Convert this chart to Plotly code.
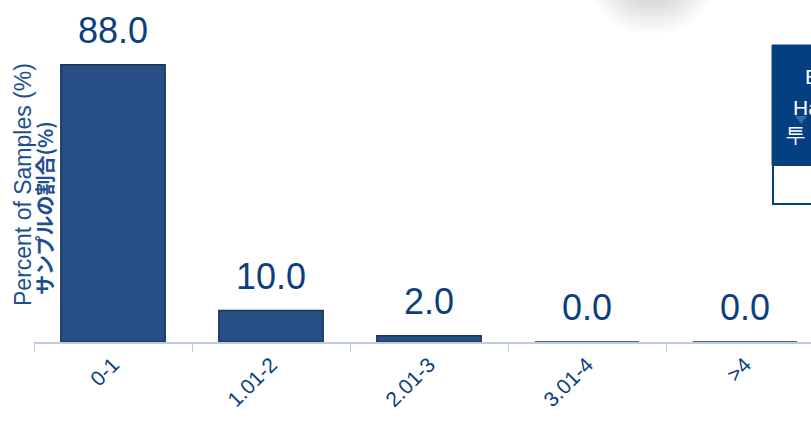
import plotly.graph_objects as go

categories = ['0-1', '1.01-2', '2.01-3', '3.01-4', '>4']
percent = [88.0, 10.0, 2.0, 0.0, 0.0]

BLUE = '#0c3f7d'
BAR = '#284f85'

W, H = 811, 423
# plot area in pixels: x 34..811, y 0..342
L, B = 34, 423 - 342
pw, ph = W - L, H - B


def px_x(x):
    return (x - L) / pw


def px_y(y):
    return (342 - y) / ph


fig = go.Figure()
fig.add_trace(go.Bar(x=categories, y=percent, width=0.66,
                     marker=dict(color=BAR, line=dict(color='#173459', width=1.5)),
                     hoverinfo='skip'))

for c, v in zip(categories, percent):
    fig.add_annotation(x=c, y=v, text=f'{v:.1f}', showarrow=False,
                       yanchor='bottom', yshift=12,
                       font=dict(size=36, color=BLUE, family='Liberation Sans'))

# y axis title (two lines, english + japanese)
fig.add_annotation(xref='paper', yref='paper', x=px_x(23), y=px_y(185),
                   xanchor='center', yanchor='middle',
                   text='Percent of Samples (%)', textangle=-90, showarrow=False,
                   font=dict(size=23, color='#1d4f8f', family='Liberation Sans'))
fig.add_annotation(xref='paper', yref='paper', x=px_x(44), y=px_y(208),
                   xanchor='center', yanchor='middle',
                   text='<b>サンプルの割合(%)</b>', textangle=-90, showarrow=False,
                   font=dict(size=20, color='#1d4f8f', family='Noto Sans CJK JP'))

# faint shadow blob at the top
for i in range(14):
    r = 65 - i * 4
    fig.add_shape(type='circle', xref='paper', yref='paper', layer='below',
                  x0=px_x(652 - r), x1=px_x(652 + r), y0=px_y(-25 + r * 0.9), y1=px_y(-25 - r * 0.9),
                  fillcolor='black', opacity=0.014, line=dict(width=0))

# clipped legend box on the right edge
fig.add_shape(type='rect', xref='paper', yref='paper',
              x0=px_x(772), x1=px_x(830), y0=px_y(165), y1=px_y(45),
              fillcolor='#063f80', line=dict(color='#063f80', width=1))
fig.add_shape(type='rect', xref='paper', yref='paper',
              x0=px_x(773), x1=px_x(830), y0=px_y(204), y1=px_y(165),
              fillcolor='white', line=dict(color='#063f80', width=2))
fig.add_shape(type='path', xref='paper', yref='paper',
              path=f'M {px_x(795)},{px_y(116)} L {px_x(807)},{px_y(116)} L {px_x(801)},{px_y(124)} Z',
              fillcolor='#3a68a8', line=dict(width=0))
for txt, xx, yy in [('E', 803, 77), ('Ha', 791, 107), ('투', 783, 134)]:
    fig.add_annotation(xref='paper', yref='paper', x=px_x(xx), y=px_y(yy),
                       xanchor='left', yanchor='middle', text=txt, showarrow=False,
                       font=dict(size=21, color='white', family='Liberation Sans'))

fig.update_layout(
    width=W, height=H, margin=dict(l=L, r=0, t=0, b=B),
    plot_bgcolor='white', paper_bgcolor='white', showlegend=False,
    xaxis=dict(range=[-0.5, (811 - 34) / 158 - 0.5], tickson='boundaries', ticks='outside',
               ticklen=8, tickcolor='#bccbe2', showline=True, linecolor='#bccbe2',
               linewidth=2, tickangle=-45, showgrid=False,
               tickfont=dict(size=21, color=BLUE, family='Liberation Sans')),
    yaxis=dict(range=[0, ph / 3.15], visible=False, showgrid=False),
)

fig.write_html('out.html', config={'displayModeBar': False},
               post_script="document.body.style.margin='0';document.body.style.overflow='hidden';")
